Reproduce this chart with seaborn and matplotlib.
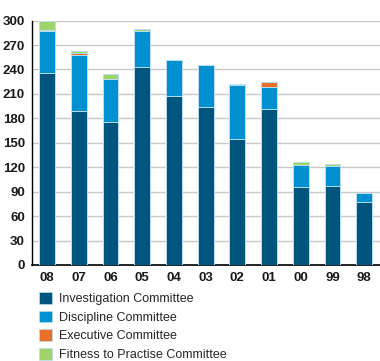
import pandas as pd
import numpy as np
import matplotlib
matplotlib.use("Agg")
import matplotlib.pyplot as plt
import seaborn as sns
from matplotlib.patches import Patch

# data
years = ["08", "07", "06", "05", "04", "03", "02", "01", "00", "99", "98"]
investigation = [236, 189, 175, 243, 208, 194, 155, 192, 96, 97, 77]
discipline = [51, 69, 53, 44, 43, 51, 66, 26, 27, 24, 11]
executive = [2, 2, 0, 0, 0, 0, 0, 6, 0, 0, 0]
fitness = [10, 3, 6, 3, 1, 0, 1, 0, 3, 3, 0]

labels = ["Investigation Committee", "Discipline Committee",
          "Executive Committee", "Fitness to Practise Committee"]
colors = ["#00557f", "#0090cf", "#e8702a", "#a0d36a"]

df = pd.DataFrame({"year": years, "Investigation": investigation,
                   "Discipline": discipline, "Executive": executive,
                   "Fitness": fitness})
layers = ["Investigation", "Discipline", "Executive", "Fitness"]
cum = df[layers].cumsum(axis=1)

sns.set_style("white")
plt.rcParams["font.family"] = ["Liberation Sans", "DejaVu Sans"]

fig = plt.figure(figsize=(3.8, 3.61), dpi=100)
ax = fig.add_axes([0.084, 0.266, 0.916, 0.677])

# draw the stacks from the top layer down so each lower layer covers the one above
for name, col in zip(layers[::-1], colors[::-1]):
    sns.barplot(x=df["year"], y=cum[name], color=col, saturation=1, width=0.5,
                edgecolor="#b9dff2", linewidth=0.7, ax=ax, zorder=3)

ax.set_ylim(0, 300)
ax.set_xlim(-0.48, 10.5)
ax.set_yticks(range(0, 301, 30))
ax.yaxis.grid(True, color="#c8c8c8", linewidth=1.0, zorder=0)
ax.set_axisbelow(True)
ax.set_xlabel("")
ax.set_ylabel("")
for s in ["top", "right"]:
    ax.spines[s].set_visible(False)
ax.spines["left"].set_color("black")
ax.spines["bottom"].set_color("black")
ax.spines["left"].set_linewidth(1.0)
ax.spines["bottom"].set_linewidth(1.2)
ax.tick_params(axis="y", length=4, width=1, color="black", labelsize=9.5, pad=1)
ax.tick_params(axis="x", length=0, labelsize=9.5, pad=5)
for t in ax.get_xticklabels() + ax.get_yticklabels():
    t.set_fontweight("bold")
    t.set_color("#1a1a1a")

handles = [Patch(facecolor=c, edgecolor="#b9dff2", linewidth=0.5) for c in colors]
fig.legend(handles, labels, loc="upper left", bbox_to_anchor=(0.09, 0.205),
           frameon=False, fontsize=9, handlelength=1.0, handleheight=1.05,
           handletextpad=0.55, labelspacing=0.45, borderaxespad=0)

plt.savefig("out.png", dpi=100)
